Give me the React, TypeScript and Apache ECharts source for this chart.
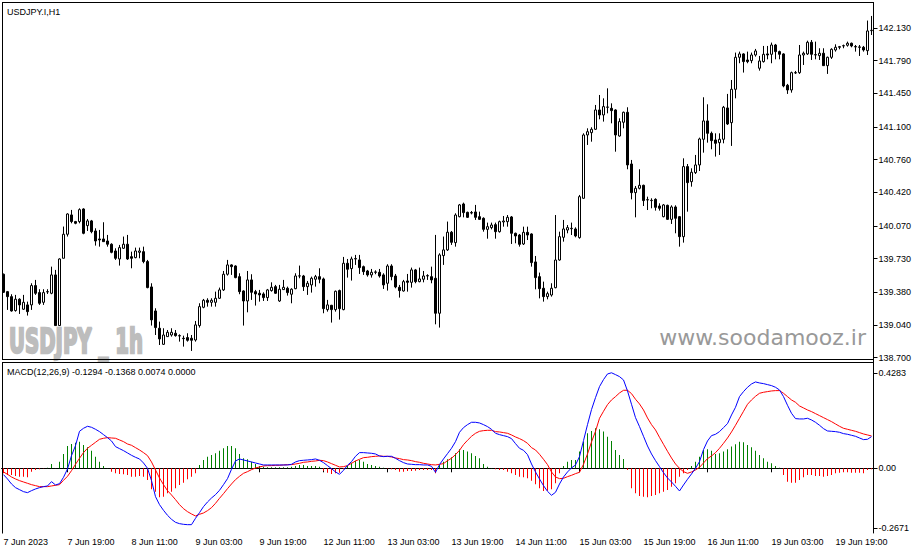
import React, { useEffect, useRef } from "react";
import * as echarts from "echarts";

const OPEN = [139.568,139.387,139.335,139.190,139.308,139.204,139.249,139.249,139.450,139.377,139.276,139.384,139.370,139.561,139.034,139.734,139.984,140.185,140.116,140.116,140.247,140.074,140.123,140.018,139.935,139.935,139.914,139.880,139.810,139.727,139.838,139.880,139.751,139.741,139.796,139.803,139.700,139.436,139.186,139.006,138.839,138.919,138.936,138.954,138.929,138.902,138.909,138.902,138.884,139.034,139.224,139.297,139.276,139.276,139.318,139.405,139.568,139.665,139.654,139.543,139.394,139.290,139.509,139.387,139.370,139.363,139.325,139.398,139.439,139.290,139.408,139.422,139.360,139.418,139.550,139.550,139.439,139.457,139.516,139.543,139.519,139.200,139.245,139.200,139.398,139.200,139.682,139.627,139.727,139.717,139.647,139.602,139.561,139.588,139.588,139.561,139.474,139.654,139.550,139.432,139.394,139.498,139.484,139.613,139.491,139.516,139.550,139.543,139.526,139.162,139.762,139.821,140.005,139.897,140.167,140.299,140.212,140.209,140.216,140.167,140.150,140.035,140.053,140.084,140.011,140.112,140.115,140.164,139.994,139.976,139.883,140.004,139.987,139.696,139.543,139.422,139.335,139.352,139.428,139.716,139.952,140.028,140.042,140.039,139.949,140.358,141.017,141.041,141.076,141.277,141.225,141.305,141.294,141.277,141.006,141.149,141.253,140.715,140.417,140.462,140.493,140.341,140.334,140.347,140.278,140.167,140.285,140.139,140.268,140.167,139.959,140.688,140.531,140.625,140.705,140.972,141.163,141.034,140.965,140.937,140.972,141.298,141.145,141.492,141.825,141.860,141.797,141.790,141.849,141.711,141.780,141.860,141.856,141.953,141.884,141.860,141.534,141.485,141.665,141.665,141.849,141.860,141.981,141.849,141.842,141.867,141.738,141.825,141.901,141.929,141.943,141.950,141.971,141.936,141.933,141.929,141.894,142.102];
const HIGH = [139.575,139.394,139.360,139.353,139.318,139.353,139.283,139.474,139.509,139.412,139.412,139.412,139.647,139.613,139.734,140.064,140.202,140.237,140.123,140.254,140.254,140.143,140.133,140.046,140.029,140.109,139.977,139.890,139.838,139.873,139.960,139.977,139.803,139.845,139.845,139.855,139.717,139.474,139.214,139.075,139.006,138.988,139.006,138.988,138.943,138.929,138.954,138.936,139.082,139.266,139.311,139.318,139.318,139.387,139.429,139.602,139.717,139.672,139.661,139.578,139.401,139.602,139.568,139.405,139.405,139.380,139.415,139.484,139.457,139.457,139.509,139.439,139.422,139.578,139.658,139.561,139.498,139.543,139.561,139.630,139.533,139.301,139.249,139.398,139.408,139.748,139.727,139.751,139.769,139.769,139.658,139.613,139.623,139.609,139.623,139.578,139.672,139.672,139.571,139.457,139.509,139.571,139.637,139.623,139.637,139.602,139.568,139.647,139.977,139.786,139.960,140.116,140.018,140.202,140.299,140.313,140.219,140.226,140.289,140.219,140.160,140.105,140.105,140.105,140.126,140.174,140.184,140.174,140.001,139.987,140.063,140.063,139.994,139.758,139.585,139.491,139.387,139.474,140.184,140.011,140.133,140.080,140.105,140.056,140.393,141.034,141.086,141.097,141.329,141.433,141.398,141.502,141.346,141.284,141.190,141.260,141.305,140.757,140.486,140.660,140.500,140.375,140.358,140.358,140.306,140.299,140.292,140.285,140.285,140.174,140.774,140.715,140.670,140.809,140.989,141.409,141.336,141.052,141.034,141.034,141.319,141.444,141.589,141.874,141.884,141.867,141.884,141.874,141.912,141.839,141.943,141.943,141.978,141.964,141.894,141.867,141.548,141.676,141.683,141.953,141.884,141.998,142.005,141.988,141.919,141.919,141.832,141.919,141.960,141.943,141.957,141.988,141.978,141.953,141.953,141.943,142.207,142.255];
const LOW = [139.373,139.197,139.179,139.179,139.155,139.197,139.138,139.197,139.353,139.249,139.249,139.363,139.360,139.034,139.034,139.734,139.960,140.098,140.088,140.098,139.984,140.018,139.994,139.866,139.855,139.907,139.855,139.786,139.717,139.658,139.831,139.717,139.630,139.734,139.734,139.682,139.422,139.034,138.936,138.832,138.832,138.919,138.919,138.919,138.867,138.815,138.867,138.770,138.867,139.013,139.214,139.231,139.231,139.231,139.311,139.394,139.554,139.561,139.526,139.360,139.034,139.172,139.301,139.242,139.283,139.290,139.290,139.387,139.363,139.280,139.405,139.346,139.266,139.412,139.526,139.394,139.353,139.377,139.439,139.474,139.162,139.179,139.065,139.179,139.096,139.193,139.533,139.502,139.665,139.571,139.561,139.543,139.533,139.568,139.533,139.415,139.398,139.505,139.422,139.325,139.387,139.387,139.429,139.474,139.484,139.484,139.509,139.474,139.047,139.013,139.665,139.810,139.873,139.855,140.160,140.160,140.153,140.191,140.133,140.133,140.011,139.938,140.035,139.938,140.001,140.063,140.063,139.883,139.890,139.855,139.872,139.924,139.647,139.411,139.317,139.283,139.307,139.335,139.422,139.709,139.907,139.994,139.976,139.952,139.938,140.354,140.913,140.947,141.069,141.180,141.156,141.242,141.138,140.843,140.999,141.086,140.660,140.347,140.160,140.451,140.278,140.236,140.254,140.230,140.230,140.160,140.133,140.091,139.994,139.855,139.897,140.219,140.479,140.611,140.642,140.833,140.937,140.868,140.792,140.809,140.930,141.121,140.903,141.398,141.763,141.666,141.763,141.763,141.832,141.686,141.770,141.804,141.763,141.804,141.804,141.513,141.444,141.457,141.652,141.652,141.745,141.849,141.797,141.804,141.797,141.735,141.652,141.808,141.884,141.908,141.919,141.936,141.929,141.884,141.839,141.884,141.849,142.057];
const CLOSE = [139.380,139.335,139.186,139.308,139.249,139.276,139.179,139.450,139.370,139.266,139.377,139.387,139.561,139.034,139.727,139.984,140.195,140.116,140.098,140.240,139.994,140.123,140.011,139.914,139.925,139.907,139.880,139.796,139.734,139.845,139.880,139.727,139.734,139.810,139.810,139.700,139.429,139.093,139.013,138.895,138.936,138.964,138.964,138.929,138.926,138.898,138.881,138.881,139.041,139.231,139.297,139.276,139.297,139.318,139.405,139.568,139.665,139.647,139.533,139.387,139.290,139.509,139.380,139.363,139.353,139.325,139.405,139.432,139.370,139.412,139.432,139.377,139.412,139.550,139.551,139.439,139.474,139.526,139.543,139.516,139.210,139.249,139.200,139.391,139.210,139.682,139.620,139.727,139.731,139.637,139.595,139.561,139.588,139.592,139.550,139.457,139.654,139.543,139.436,139.398,139.491,139.484,139.613,139.491,139.519,139.550,139.554,139.509,139.162,139.769,139.821,140.005,139.900,140.184,140.289,140.209,140.160,140.205,140.160,140.139,140.035,140.063,140.080,140.011,140.115,140.122,140.160,139.994,139.966,139.879,140.004,139.976,139.689,139.533,139.418,139.335,139.366,139.422,139.716,139.959,140.039,140.053,140.046,139.966,140.375,141.017,141.051,141.076,141.277,141.225,141.312,141.308,141.270,141.017,141.156,141.253,140.705,140.417,140.462,140.493,140.334,140.344,140.337,140.264,140.254,140.289,140.139,140.268,140.150,139.959,140.688,140.521,140.629,140.705,140.975,141.163,141.034,140.958,140.930,140.972,141.305,141.131,141.492,141.825,141.860,141.780,141.780,141.849,141.891,141.787,141.856,141.849,141.953,141.884,141.856,141.527,141.485,141.665,141.662,141.849,141.867,141.981,141.856,141.853,141.867,141.738,141.825,141.908,141.929,141.936,141.946,141.971,141.943,141.933,141.929,141.901,142.099,142.106];

const MACD_LINE = [-0.0284,-0.0478,-0.0703,-0.0867,-0.0957,-0.1047,-0.1091,-0.1002,-0.0927,-0.0867,-0.0822,-0.0792,-0.0598,-0.0748,-0.0688,-0.0404,-0.0030,0.0568,0.1017,0.1659,0.1794,0.1884,0.1839,0.1749,0.1645,0.1510,0.1375,0.1226,0.0972,0.0882,0.0792,0.0688,0.0583,0.0493,0.0419,0.0239,0.0000,-0.0553,-0.1271,-0.1630,-0.1884,-0.2108,-0.2287,-0.2422,-0.2482,-0.2512,-0.2527,-0.2527,-0.2243,-0.1988,-0.1719,-0.1510,-0.1331,-0.1181,-0.0987,-0.0733,-0.0463,-0.0045,0.0329,0.0419,0.0374,0.0329,0.0284,0.0239,0.0194,0.0150,0.0150,0.0150,0.0150,0.0150,0.0150,0.0150,0.0179,0.0284,0.0344,0.0359,0.0374,0.0389,0.0419,0.0359,0.0254,0.0120,-0.0015,-0.0164,-0.0269,-0.0090,0.0135,0.0299,0.0538,0.0703,0.0703,0.0688,0.0673,0.0643,0.0553,0.0523,0.0538,0.0538,0.0449,0.0344,0.0254,0.0194,0.0179,0.0164,0.0164,0.0150,0.0150,0.0090,-0.0179,0.0164,0.0419,0.0658,0.0897,0.1196,0.1615,0.1824,0.1958,0.2063,0.2063,0.2033,0.1958,0.1869,0.1749,0.1570,0.1510,0.1465,0.1420,0.1331,0.1106,0.0897,0.0807,0.0613,0.0194,-0.0164,-0.0478,-0.0777,-0.1032,-0.1211,-0.1076,-0.0703,-0.0389,-0.0164,0.0015,0.0150,0.0523,0.1241,0.1958,0.2631,0.3169,0.3663,0.3977,0.4231,0.4283,0.4201,0.4111,0.3962,0.3468,0.2870,0.2272,0.1869,0.1435,0.1002,0.0643,0.0344,0.0075,-0.0194,-0.0434,-0.0613,-0.0807,-0.1017,-0.0748,-0.0493,-0.0254,0.0000,0.0299,0.0837,0.1226,0.1465,0.1525,0.1645,0.1824,0.2003,0.2392,0.2736,0.3214,0.3439,0.3633,0.3782,0.3872,0.3827,0.3797,0.3752,0.3708,0.3633,0.3513,0.3214,0.2826,0.2467,0.2228,0.2213,0.2213,0.2243,0.2168,0.2063,0.1929,0.1779,0.1674,0.1659,0.1645,0.1615,0.1555,0.1525,0.1480,0.1435,0.1360,0.1286,0.1301,0.1420];
const SIGNAL_LINE = [-0.0164,-0.0269,-0.0389,-0.0478,-0.0553,-0.0613,-0.0673,-0.0733,-0.0777,-0.0822,-0.0822,-0.0822,-0.0792,-0.0762,-0.0733,-0.0538,-0.0359,-0.0105,0.0179,0.0449,0.0703,0.0897,0.1032,0.1166,0.1301,0.1346,0.1375,0.1360,0.1346,0.1271,0.1196,0.1091,0.1032,0.0927,0.0822,0.0703,0.0568,0.0284,-0.0075,-0.0434,-0.0733,-0.1002,-0.1196,-0.1405,-0.1630,-0.1809,-0.1944,-0.2048,-0.2138,-0.2063,-0.2003,-0.1899,-0.1764,-0.1570,-0.1346,-0.1136,-0.0912,-0.0703,-0.0508,-0.0359,-0.0224,-0.0150,-0.0060,0.0015,0.0060,0.0105,0.0120,0.0120,0.0135,0.0135,0.0150,0.0164,0.0164,0.0194,0.0224,0.0269,0.0284,0.0314,0.0329,0.0359,0.0344,0.0284,0.0209,0.0135,0.0060,0.0075,0.0120,0.0224,0.0329,0.0404,0.0478,0.0493,0.0523,0.0538,0.0553,0.0538,0.0538,0.0508,0.0463,0.0434,0.0389,0.0374,0.0344,0.0299,0.0269,0.0224,0.0194,0.0164,0.0150,0.0179,0.0209,0.0344,0.0449,0.0613,0.0807,0.1061,0.1256,0.1435,0.1570,0.1659,0.1689,0.1704,0.1704,0.1645,0.1630,0.1600,0.1570,0.1495,0.1405,0.1331,0.1241,0.1121,0.0927,0.0822,0.0628,0.0404,0.0164,-0.0164,-0.0389,-0.0463,-0.0449,-0.0374,-0.0314,-0.0239,-0.0179,0.0179,0.0643,0.1181,0.1659,0.2243,0.2556,0.2855,0.3065,0.3214,0.3379,0.3498,0.3498,0.3349,0.3095,0.2885,0.2616,0.2257,0.1958,0.1719,0.1390,0.1076,0.0762,0.0463,0.0194,0.0000,-0.0150,-0.0224,-0.0164,-0.0075,0.0045,0.0239,0.0434,0.0553,0.0703,0.0897,0.1121,0.1360,0.1630,0.1929,0.2243,0.2556,0.2870,0.3065,0.3229,0.3364,0.3409,0.3439,0.3468,0.3483,0.3483,0.3364,0.3214,0.3065,0.2960,0.2796,0.2706,0.2616,0.2542,0.2452,0.2362,0.2272,0.2183,0.2093,0.1988,0.1884,0.1794,0.1749,0.1704,0.1659,0.1600,0.1540,0.1495,0.1450];
const HISTOGRAM = [-0.0224,-0.0299,-0.0299,-0.0344,-0.0374,-0.0374,-0.0404,-0.0150,-0.0075,-0.0045,-0.0010,0.0030,0.0194,0.0015,0.0299,0.0643,0.1002,0.1091,0.1151,0.1196,0.1047,0.0942,0.0792,0.0523,0.0299,0.0105,0.0015,-0.0150,-0.0224,-0.0254,-0.0269,-0.0299,-0.0374,-0.0374,-0.0344,-0.0374,-0.0523,-0.0942,-0.1047,-0.1301,-0.1271,-0.1121,-0.1047,-0.0897,-0.0748,-0.0643,-0.0493,-0.0374,-0.0224,0.0150,0.0374,0.0523,0.0598,0.0673,0.0792,0.0897,0.1002,0.1002,0.0897,0.0643,0.0449,0.0404,0.0299,0.0194,0.0105,0.0075,0.0045,0.0045,0.0045,0.0045,0.0045,0.0045,0.0075,0.0105,0.0150,0.0150,0.0105,0.0105,0.0105,0.0075,-0.0105,-0.0194,-0.0254,-0.0224,-0.0194,-0.0045,0.0105,0.0254,0.0344,0.0374,0.0299,0.0194,0.0150,0.0105,0.0075,0.0030,-0.0015,-0.0045,-0.0075,-0.0150,-0.0150,-0.0120,-0.0120,-0.0105,-0.0075,-0.0075,-0.0075,-0.0075,-0.0224,0.0150,0.0299,0.0404,0.0493,0.0673,0.0852,0.0822,0.0748,0.0673,0.0553,0.0449,0.0194,0.0075,0.0015,-0.0045,-0.0075,-0.0075,-0.0150,-0.0224,-0.0299,-0.0374,-0.0404,-0.0449,-0.0553,-0.0718,-0.0897,-0.1017,-0.1002,-0.0942,-0.0673,-0.0224,0.0105,0.0299,0.0374,0.0374,0.0748,0.1196,0.1570,0.1674,0.1794,0.1749,0.1645,0.1420,0.1226,0.0822,0.0598,0.0419,-0.0075,-0.0897,-0.1121,-0.1241,-0.1271,-0.1301,-0.1241,-0.1196,-0.1121,-0.1047,-0.0972,-0.0822,-0.0673,-0.0374,-0.0224,-0.0075,0.0105,0.0299,0.0523,0.0822,0.0852,0.0792,0.0643,0.0673,0.0748,0.0852,0.0972,0.1076,0.1196,0.1166,0.1047,0.0942,0.0792,0.0598,0.0449,0.0299,0.0224,0.0105,0.0030,-0.0299,-0.0598,-0.0643,-0.0643,-0.0523,-0.0404,-0.0299,-0.0299,-0.0344,-0.0344,-0.0374,-0.0344,-0.0299,-0.0224,-0.0194,-0.0179,-0.0179,-0.0194,-0.0194,-0.0194,-0.0224,-0.0075,-0.0045];

const TIME_TICK_LABELS = ["7 Jun 2023","7 Jun 19:00","8 Jun 11:00","9 Jun 03:00","9 Jun 19:00","12 Jun 11:00","13 Jun 03:00","13 Jun 19:00","14 Jun 11:00","15 Jun 03:00","15 Jun 19:00","16 Jun 11:00","19 Jun 03:00","19 Jun 19:00"];
const PRICE_TICKS = [138.7,139.04,139.38,139.73,140.07,140.42,140.76,141.1,141.45,141.79,142.13];
const MACD_TICKS = [-0.2671,0,0.4283];
const BARS_PER_LABEL = 16;

const BAR_INDEX = OPEN.map((_, i) => String(i));

const FONT = '"Liberation Sans", Arial, sans-serif';
const GREEN = "#008000";
const RED = "#ff0000";
const BLUE = "#0000ff";

function frameLine(x1: number, y1: number, x2: number, y2: number) {
  return {
    type: "line",
    silent: true,
    z: 10,
    shape: { x1, y1, x2, y2 },
    style: { stroke: "#000", lineWidth: 1 },
  };
}

export default function App() {
  const ref = useRef<HTMLDivElement>(null);

  useEffect(() => {
    if (!ref.current) return;
    const chart = echarts.init(ref.current, null, { renderer: "svg" });
    const ohlc = OPEN.map((o, i) => [o, CLOSE[i], LOW[i], HIGH[i]]);
    const hist = HISTOGRAM.map((v) => ({
      value: v,
      itemStyle: { color: v >= 0 ? GREEN : RED },
    }));

    const axisText = { fontSize: 9, color: "#000", fontFamily: FONT };

    chart.setOption({
      animation: false,
      backgroundColor: "#ffffff",
      grid: [
        { left: 1.5, width: 872, top: 2.5, height: 357, outerBoundsMode: "none", containLabel: false },
        { left: 1.5, width: 872, top: 362.5, height: 170.5, outerBoundsMode: "none", containLabel: false },
      ],
      xAxis: [
        {
          type: "category",
          gridIndex: 0,
          data: BAR_INDEX,
          boundaryGap: true,
          axisLine: { show: false },
          axisTick: { show: false },
          axisLabel: { show: false },
          splitLine: { show: false },
        },
        {
          type: "category",
          gridIndex: 1,
          data: BAR_INDEX,
          boundaryGap: true,
          axisLine: { show: true, lineStyle: { color: "#000", width: 1 } },
          axisTick: {
            show: true,
            interval: BARS_PER_LABEL - 1,
            alignWithLabel: true,
            length: 4,
            lineStyle: { color: "#000" },
          },
          axisLabel: {
            ...axisText,
            interval: BARS_PER_LABEL - 1,
            align: "left",
            margin: 4,
            formatter: (_v: string, idx: number) =>
              TIME_TICK_LABELS[Math.round(idx / BARS_PER_LABEL)] ?? "",
          },
          splitLine: { show: false },
        },
      ],
      yAxis: [
        {
          type: "value",
          gridIndex: 0,
          position: "right",
          min: 138.681,
          max: 142.395,
          axisLine: { show: true, lineStyle: { color: "#000", width: 1 } },
          axisTick: { show: true, length: 4, lineStyle: { color: "#000" }, customValues: PRICE_TICKS },
          axisLabel: {
            ...axisText,
            margin: 5,
            customValues: PRICE_TICKS,
            formatter: (v: number) => v.toFixed(3),
          },
          splitLine: { show: false },
        },
        {
          type: "value",
          gridIndex: 1,
          position: "right",
          min: -0.2901,
          max: 0.4744,
          axisLine: { show: true, lineStyle: { color: "#000", width: 1 } },
          axisTick: { show: true, length: 4, lineStyle: { color: "#000" }, customValues: MACD_TICKS },
          axisLabel: {
            ...axisText,
            margin: 5,
            customValues: MACD_TICKS,
            formatter: (v: number) => (v === 0 ? "0.00" : v.toFixed(4)),
          },
          splitLine: { show: false },
        },
      ],
      series: [
        {
          type: "candlestick",
          xAxisIndex: 0,
          yAxisIndex: 0,
          data: ohlc,
          barWidth: 2,
          itemStyle: {
            color: "#ffffff",
            color0: "#000000",
            borderColor: "#000000",
            borderColor0: "#000000",
            borderColorDoji: "#000000",
            borderWidth: 1,
          },
        },
        {
          type: "bar",
          xAxisIndex: 1,
          yAxisIndex: 1,
          data: hist,
          barWidth: 1,
        },
        {
          type: "line",
          xAxisIndex: 1,
          yAxisIndex: 1,
          data: SIGNAL_LINE,
          symbol: "none",
          lineStyle: { color: RED, width: 1 },
        },
        {
          type: "line",
          xAxisIndex: 1,
          yAxisIndex: 1,
          data: MACD_LINE,
          symbol: "none",
          lineStyle: { color: BLUE, width: 1 },
        },
      ],
      graphic: [
        frameLine(2, 2.5, 874, 2.5),
        frameLine(2.5, 2, 2.5, 360),
        frameLine(2, 359.5, 874, 359.5),
        frameLine(2, 362.5, 874, 362.5),
        frameLine(2.5, 362, 2.5, 533.5),
        frameLine(873.5, 359, 873.5, 363),
        {
          type: "text",
          silent: true,
          z: 1,
          x: 9,
          y: 341,
          scaleX: 0.58,
          style: {
            text: "USDJPY _ 1h",
            fill: "#bdbdbd",
            stroke: "#bdbdbd",
            lineWidth: 2.5,
            font: 'bold 34px "DejaVu Sans", sans-serif',
            textAlign: "left",
            textVerticalAlign: "middle",
            align: "left",
            verticalAlign: "middle",
          },
        },
        {
          type: "text",
          silent: true,
          z: 1,
          x: 866,
          y: 337,
          style: {
            text: "www.soodamooz.ir",
            fill: "#999999",
            font: '22px "DejaVu Sans", sans-serif',
            textAlign: "right",
            textVerticalAlign: "middle",
            align: "right",
            verticalAlign: "middle",
          },
        },
        {
          type: "text",
          silent: true,
          z: 20,
          x: 7,
          y: 11.5,
          style: {
            text: "USDJPY.I,H1",
            fill: "#000",
            font: '9px "Liberation Sans", Arial, sans-serif',
            textAlign: "left",
            textVerticalAlign: "middle",
            align: "left",
            verticalAlign: "middle",
          },
        },
        {
          type: "text",
          silent: true,
          z: 20,
          x: 7,
          y: 372,
          style: {
            text: "MACD(12,26,9) -0.1294 -0.1368 0.0074 0.0000",
            fill: "#000",
            font: '9px "Liberation Sans", Arial, sans-serif',
            textAlign: "left",
            textVerticalAlign: "middle",
            align: "left",
            verticalAlign: "middle",
          },
        },
      ],
    });
    return () => chart.dispose();
  }, []);

  return (
    <div
      ref={ref}
      style={{ position: "fixed", left: 0, top: 0, width: 919, height: 554, background: "#fff" }}
    />
  );
}
